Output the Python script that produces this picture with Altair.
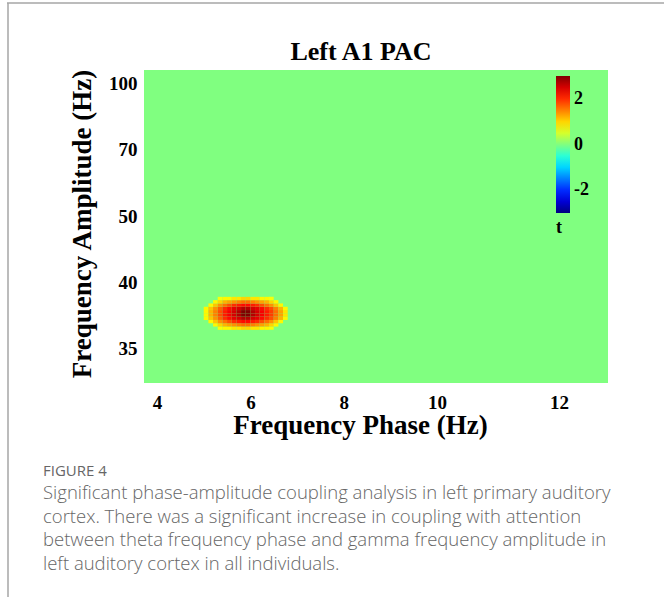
import altair as alt
import pandas as pd

# ---------------- data ----------------
title_text = "Left A1 PAC"
x_title = "Frequency Phase (Hz)"
y_title = "Frequency Amplitude (Hz)"
x_ticks = [4, 6, 8, 10, 12]
y_ticks = [35, 40, 50, 70, 100]
t_ticks = [-2, 0, 2]

# phase bins (Hz, lower edge) and amplitude bins (Hz, lower edge) of the significant cluster
phase_bins = [5.0, 5.1, 5.2, 5.3, 5.4, 5.5, 5.6, 5.7, 5.8, 5.9,
              6.0, 6.1, 6.2, 6.3, 6.4, 6.5, 6.6, 6.7]
amp_bins = [36.375, 36.625, 36.875, 37.125, 37.375,
            37.625, 37.875, 38.125, 38.375, 38.625]
# t values read from the colours of the cluster (0 = not significant)
t_rows = [
    [0.0, 0.0, 0.0, 0.7, 0.8, 0.8, 0.9, 0.9, 1.0, 1.0, 0.9, 0.9, 0.8, 0.8, 0.7, 0.0, 0.0, 0.0],
    [0.0, 0.0, 0.8, 1.0, 1.2, 1.3, 1.4, 1.5, 1.6, 1.6, 1.5, 1.4, 1.3, 1.2, 1.0, 0.8, 0.0, 0.0],
    [0.0, 0.8, 1.1, 1.4, 1.6, 1.8, 2.0, 2.1, 2.2, 2.2, 2.1, 2.0, 1.8, 1.6, 1.4, 1.1, 0.8, 0.0],
    [0.8, 1.1, 1.4, 1.7, 2.0, 2.2, 2.4, 2.5, 2.7, 2.7, 2.5, 2.4, 2.2, 2.0, 1.8, 1.5, 1.2, 0.8],
    [0.8, 1.2, 1.5, 1.8, 2.1, 2.3, 2.5, 2.7, 3.0, 3.0, 2.7, 2.5, 2.3, 2.1, 1.9, 1.6, 1.3, 0.9],
    [0.8, 1.2, 1.5, 1.8, 2.1, 2.3, 2.5, 2.7, 3.0, 3.0, 2.7, 2.5, 2.3, 2.1, 1.9, 1.6, 1.3, 0.9],
    [0.8, 1.1, 1.4, 1.7, 2.0, 2.2, 2.4, 2.5, 2.7, 2.7, 2.5, 2.4, 2.2, 2.0, 1.8, 1.5, 1.2, 0.8],
    [0.0, 0.8, 1.1, 1.4, 1.6, 1.8, 2.0, 2.1, 2.2, 2.2, 2.1, 2.0, 1.8, 1.6, 1.4, 1.1, 0.8, 0.0],
    [0.0, 0.0, 0.8, 1.0, 1.2, 1.3, 1.4, 1.5, 1.6, 1.6, 1.5, 1.4, 1.3, 1.2, 1.0, 0.8, 0.0, 0.0],
    [0.0, 0.0, 0.0, 0.7, 0.8, 0.8, 0.9, 0.9, 1.0, 1.0, 0.9, 0.9, 0.8, 0.8, 0.7, 0.0, 0.0, 0.0],
]
phase_step = 0.1
amp_step = 0.25

caption_label = "FIGURE 4"
caption_lines = [
    "Significant phase-amplitude coupling analysis in left primary auditory",
    "cortex. There was a significant increase in coupling with attention",
    "between theta frequency phase and gamma frequency amplitude in",
    "left auditory cortex in all individuals.",
]

# jet colour map stops
jet_domain = [-3, -2.25, -1.5, -0.75, 0, 0.75, 1.5, 2.25, 3]
jet_colors = ["#000080", "#0000ff", "#0080ff", "#00ffff", "#80ff80",
              "#ffff00", "#ff8000", "#ff0000", "#800000"]

# ---------------- table ----------------
records = []
for amp, row in zip(amp_bins, t_rows):
    for ph, t in zip(phase_bins, row):
        if t > 0:
            records.append({"phase": ph, "phase_hi": round(ph + phase_step, 3),
                            "amp": amp, "amp_hi": amp + amp_step, "t": t})
heat = pd.DataFrame(records)

W, H = 464, 313
PAD = {"left": 144, "top": 70, "right": 56, "bottom": 217}
SERIF = "Liberation Serif"

x_scale = alt.Scale(domain=[3.72, 10, 12, 12.8], range=[0, 293, 415, W], nice=False, zero=False)
y_scale = alt.Scale(domain=[32.35, 35, 40, 50, 70, 100, 105.8],
                    range=[H, 278, 212, 146, 79, 13, 0], nice=False, zero=False)
c_scale = alt.Scale(domain=jet_domain, range=jet_colors, interpolate="rgb")

heatmap = alt.Chart(heat).mark_rect(strokeWidth=0).encode(
    x=alt.X("phase:Q", scale=x_scale,
            axis=alt.Axis(values=x_ticks, title=x_title, grid=False, ticks=False, domain=False,
                          labelFont=SERIF, labelFontSize=19, labelFontWeight="bold",
                          labelColor="black", labelPadding=10, labelFlush=False,
                          titleFont=SERIF, titleFontSize=27, titleFontWeight="bold",
                          titleColor="black", titleX=216, titleY=50,
                          titleBaseline="alphabetic", titleAlign="center")),
    x2="phase_hi:Q",
    y=alt.Y("amp:Q", scale=y_scale,
            axis=alt.Axis(values=y_ticks, title=y_title, grid=False, ticks=False, domain=False,
                          labelFont=SERIF, labelFontSize=19, labelFontWeight="bold",
                          labelColor="black", labelPadding=7, labelFlush=False,
                          titleFont=SERIF, titleFontSize=27, titleFontWeight="bold",
                          titleColor="black", titleX=-54, titleY=153.5,
                          titleBaseline="alphabetic", titleAlign="center")),
    y2="amp_hi:Q",
    color=alt.Color("t:Q", scale=c_scale,
                    legend=alt.Legend(type="gradient", orient="none", legendX=412, legendY=6,
                                      direction="vertical", gradientLength=137,
                                      gradientThickness=14, gradientStrokeWidth=0,
                                      values=t_ticks,
                                      labelExpr="datum.value < 0 ? '-' + abs(datum.value) : '\u2008' + datum.value",
                                      labelFont=SERIF, labelFontSize=18, labelFontWeight="bold",
                                      labelColor="black", labelOffset=4, labelBaseline="top",
                                      labelOverlap=False,
                                      title="\u2008t", titleOrient="bottom", titleAnchor="start",
                                      titleFont=SERIF, titleFontSize=18, titleFontWeight="bold",
                                      titleColor="black", titlePadding=6, padding=0)),
)

one = pd.DataFrame({"k": [0]})
border_left = alt.Chart(one).mark_rule(color="#a6a6a6", strokeWidth=1.5).encode(
    x=alt.value(-136), y=alt.value(-67), y2=alt.value(527))
border_top = alt.Chart(one).mark_rule(color="#a6a6a6", strokeWidth=1.5).encode(
    x=alt.value(-137), x2=alt.value(520), y=alt.value(-67))
title_mark = alt.Chart(one).mark_text(align="center", baseline="alphabetic", font=SERIF,
                                      fontSize=26, fontWeight="bold", color="black").encode(
    x=alt.value(217), y=alt.value(-10), text=alt.value(title_text))
fig_label = alt.Chart(one).mark_text(align="left", baseline="alphabetic", font="Open Sans",
                                     fontSize=15, color="#666666").encode(
    x=alt.value(-101), y=alt.value(406), text=alt.value(caption_label))
caption = alt.Chart(one).mark_text(align="left", baseline="alphabetic", font="Open Sans",
                                   fontSize=18.5, fontWeight=300, color="#666666",
                                   lineHeight=23.7).encode(
    x=alt.value(-101), y=alt.value(429), text=alt.value(caption_lines))

chart = alt.layer(heatmap, border_left, border_top, title_mark, fig_label, caption).properties(
    width=W, height=H,
    autosize=alt.AutoSizeParams(type="none"),
    padding=PAD,
    background="white",
).configure_view(fill="#80ff80", stroke=None)

chart.save("out.html", embed_options={"renderer": "svg", "actions": False})
